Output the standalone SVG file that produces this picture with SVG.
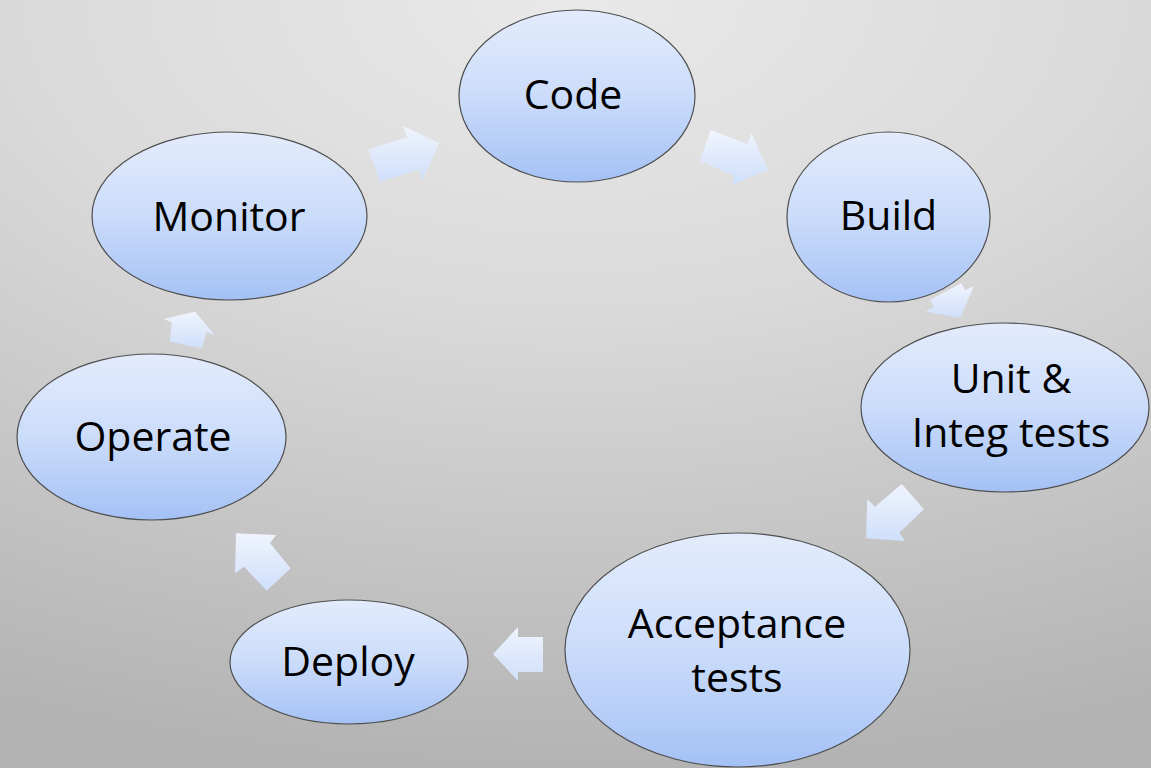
<svg xmlns="http://www.w3.org/2000/svg" width="1151" height="768" viewBox="0 0 1151 768">
  <defs>
    <radialGradient id="bg" gradientUnits="userSpaceOnUse" cx="575" cy="0" r="768" gradientTransform="translate(575 0) scale(1.8 1) translate(-575 0)">
      <stop offset="0" stop-color="#e9e9e9"/>
      <stop offset="0.4" stop-color="#dadada"/>
      <stop offset="1" stop-color="#b3b3b3"/>
    </radialGradient>
    <linearGradient id="node" x1="0" y1="0" x2="0" y2="1">
      <stop offset="0" stop-color="#e3ecfc"/>
      <stop offset="0.5" stop-color="#cbdcfa"/>
      <stop offset="1" stop-color="#a4c1f5"/>
    </linearGradient>
    <linearGradient id="arrow" x1="0" y1="0" x2="0" y2="1">
      <stop offset="0" stop-color="#f0f4fd"/>
      <stop offset="1" stop-color="#cfdffb"/>
    </linearGradient>
  </defs>
  <style>
    .node ellipse { fill: url(#node); stroke: #4f4f4f; stroke-width: 1.2; }
    .node text { font-family: "Open Sans", "Liberation Sans", sans-serif; font-size: 41px; fill: #000; text-anchor: middle; }
    .conn polygon { fill: url(#arrow); stroke: none; }
  </style>
  <rect x="0" y="0" width="1151" height="768" fill="url(#bg)"/>
  <g id="connectors" class="conn">
    <polygon id="a1" points="368.3,149.3 407.3,137.3 403.3,126 439.3,143.3 422.7,180 419.3,169.3 380,181.7"/>
    <polygon id="a2" points="710.7,130 747.3,144 751.7,133.3 767.7,170 731.7,185 735,176 700,160.7"/>
    <polygon id="a3" points="930.4,299.7 934.2,306.8 925.4,311.5 960,318 974,285.7 965.2,290.4 961.4,283.3"/>
    <polygon id="a4" points="866,538.3 867.3,499.3 875,506.7 901.7,484 924,509.3 899.3,532.7 905,541"/>
    <polygon id="a5" points="493,654 518,627 518,637 543,637 543,672 518,672 518,681"/>
    <polygon id="a6" points="236,533.3 276,535 270,543.3 290.7,568.3 266.7,590.7 244,566.7 235,573.3"/>
    <polygon id="a7" points="195,311.7 215,335 206.7,332.3 201.7,348.3 170,341.7 171.7,322.3 163.3,319"/>
  </g>
  <g id="code" class="node">
    <ellipse cx="577" cy="96" rx="118" ry="86"/>
    <text x="573" y="109">Code</text>
  </g>
  <g id="build" class="node">
    <ellipse cx="888.5" cy="217" rx="101.5" ry="85"/>
    <text x="888.5" y="230">Build</text>
  </g>
  <g id="unit" class="node">
    <ellipse cx="1005" cy="407.5" rx="144" ry="84.5"/>
    <text x="1011" y="393">Unit &amp;</text>
    <text x="1011" y="447">Integ tests</text>
  </g>
  <g id="acceptance" class="node">
    <ellipse cx="737.5" cy="650" rx="172.5" ry="117"/>
    <text x="737" y="638">Acceptance</text>
    <text x="737" y="692">tests</text>
  </g>
  <g id="deploy" class="node">
    <ellipse cx="349" cy="662" rx="119" ry="62"/>
    <text x="348" y="676">Deploy</text>
  </g>
  <g id="operate" class="node">
    <ellipse cx="151.5" cy="437" rx="134.5" ry="83"/>
    <text x="153" y="451">Operate</text>
  </g>
  <g id="monitor" class="node">
    <ellipse cx="229.5" cy="216" rx="137.5" ry="84"/>
    <text x="229" y="231">Monitor</text>
  </g>
</svg>
